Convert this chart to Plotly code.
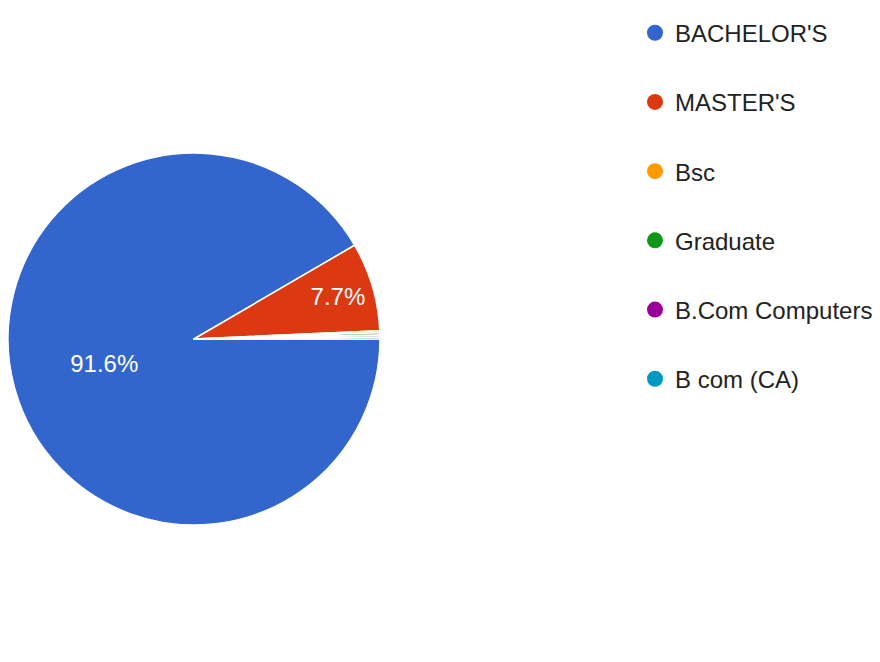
import plotly.graph_objects as go

labels = ["BACHELOR'S", "MASTER'S", "Bsc", "Graduate", "B.Com Computers", "B com (CA)"]
counts = [523, 44, 1, 1, 1, 1]
colors = ["#3366cc", "#dc3912", "#ff9900", "#109618", "#990099", "#0099c6"]
shown_text = ["%{percent:.1%}", "%{percent:.1%}", "", "", "", ""]

fig = go.Figure()
fig.add_trace(go.Pie(
    labels=labels, values=counts, sort=False,
    direction="clockwise", rotation=90,
    marker=dict(colors=colors, line=dict(color="white", width=1.5)),
    texttemplate=shown_text, textposition="inside",
    insidetextorientation="horizontal",
    textfont=dict(family="Liberation Sans, Arial", size=24, color="white"),
    showlegend=False, hoverinfo="label+percent",
    domain=dict(x=[0.0, 0.4227], y=[0.0, 1.0]),
))

for lab, col in zip(labels, colors):
    fig.add_trace(go.Scatter(
        x=[None], y=[None], mode="markers", name=lab,
        legendgroup=lab,
        marker=dict(color=col, size=16, symbol="circle"),
    ))

fig.update_layout(
    width=880, height=662,
    margin=dict(l=0, r=0, t=0, b=0),
    paper_bgcolor="white", plot_bgcolor="white",
    xaxis=dict(visible=False), yaxis=dict(visible=False),
    legend=dict(
        x=0.7125, y=0.996, xanchor="left", yanchor="top",
        font=dict(family="Liberation Sans, Arial", size=24, color="#222222"),
        tracegroupgap=35, itemsizing="trace",
        bgcolor="rgba(0,0,0,0)",
    ),
)

fig.write_html("out.html")
